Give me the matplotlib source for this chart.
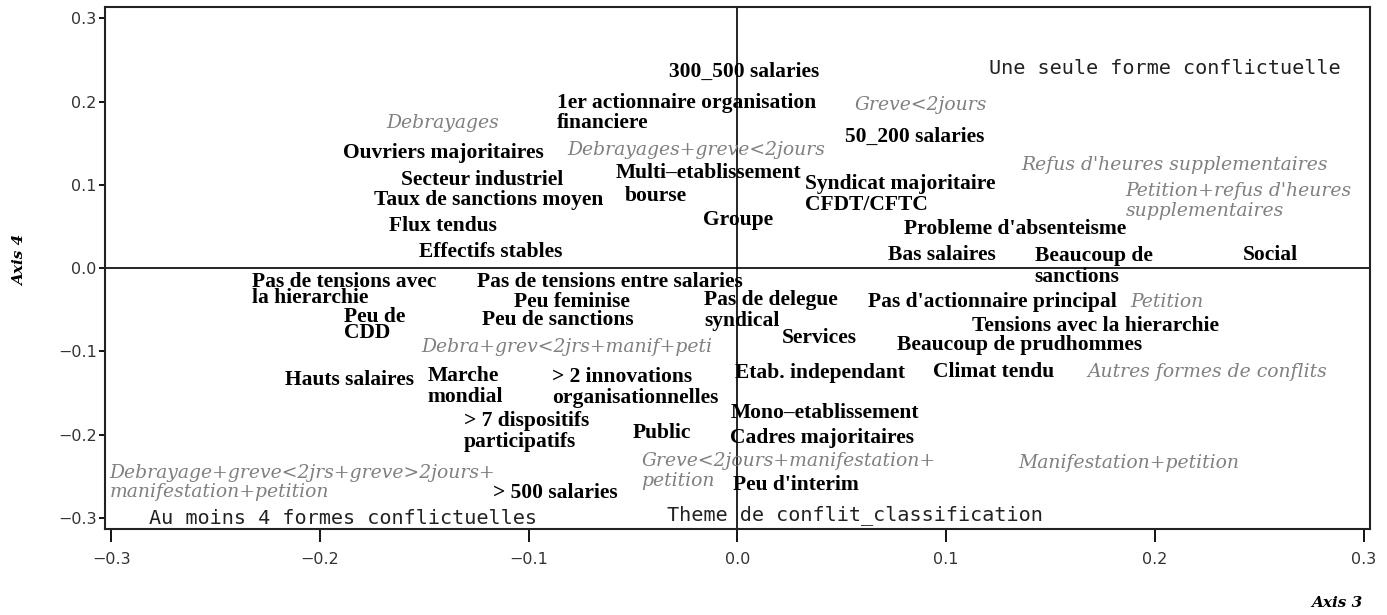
import matplotlib
matplotlib.use("Agg")
import matplotlib.pyplot as plt

# ---------------- Data (Axis 3 / Axis 4 coordinates) ----------------
# variables actives (black labels)
var_labels = [
    "300_500 salaries", "1er actionnaire organisation\nfinanciere", "Ouvriers majoritaires",
    "Secteur industriel", "Taux de sanctions moyen", "Flux tendus", "Effectifs stables",
    "Multi\u2013etablissement", "bourse", "Groupe", "50_200 salaries",
    "Syndicat majoritaire\nCFDT/CFTC", "Probleme d'absenteisme", "Bas salaires",
    "Beaucoup de\nsanctions", "Social", "Pas de tensions avec\nla hierarchie",
    "Pas de tensions entre salaries", "Peu feminise", "Pas de delegue\nsyndical",
    "Pas d'actionnaire principal", "Peu de\nCDD", "Peu de sanctions",
    "Tensions avec la hierarchie", "Services", "Beaucoup de prudhommes",
    "Hauts salaires", "Marche\nmondial", "> 2 innovations\norganisationnelles",
    "Etab. independant", "Climat tendu", "Mono\u2013etablissement",
    "> 7 dispositifs\nparticipatifs", "Public", "Cadres majoritaires",
    "Peu d'interim", "> 500 salaries",
]
var_axis3 = [
    0.0030, -0.0245, -0.1407, -0.1223, -0.1194, -0.1410, -0.1182,
    -0.0140, -0.0389, 0.0001, 0.0850, 0.0780, 0.1331, 0.0981,
    0.1707, 0.2551, -0.1886, -0.0612, -0.0792, 0.0162,
    0.1219, -0.1738, -0.0863, 0.1717, 0.0392, 0.1350,
    -0.1860, -0.1304, -0.0490, 0.0394, 0.1226, 0.0418,
    -0.1010, -0.0363, 0.0404, 0.0282, -0.0875,
]
var_axis4 = [
    0.2353, 0.1861, 0.1381, 0.1056, 0.0816, 0.0504, 0.0192,
    0.1140, 0.0864, 0.0576, 0.1573, 0.0888, 0.0468, 0.0156,
    0.0024, 0.0156, -0.0264, -0.0168, -0.0408, -0.0510,
    -0.0408, -0.0684, -0.0624, -0.0696, -0.0840, -0.0924,
    -0.1345, -0.1417, -0.1429, -0.1261, -0.1248, -0.1741,
    -0.1957, -0.1981, -0.2041, -0.2605, -0.2701,
]

# formes de conflit (grey italic labels)
conf_labels = [
    "Debrayages", "Greve<2jours", "Debrayages+greve<2jours",
    "Refus d'heures supplementaires", "Petition+refus d'heures\nsupplementaires",
    "Petition", "Debra+grev<2jrs+manif+peti", "Autres formes de conflits",
    "Manifestation+petition", "Greve<2jours+manifestation+\npetition",
    "Debrayage+greve<2jrs+greve>2jours+\nmanifestation+petition",
]
conf_axis3 = [-0.1412, 0.0878, -0.0197, 0.2093, 0.2400, 0.2059, -0.0816,
              0.2251, 0.1873, 0.0243, -0.2085]
conf_axis4 = [0.1741, 0.1957, 0.1417, 0.1237, 0.0804, -0.0408, -0.0948,
              -0.1248, -0.2341, -0.2437, -0.2575]

# classification groups
group_labels = ["Une seule forme conflictuelle", "Au moins 4 formes conflictuelles",
                "Theme de conflit_classification"]
group_axis3 = [0.2047, -0.1891, 0.0562]
group_axis4 = [0.2401, -0.3001, -0.2965]

ticks = [-0.3, -0.2, -0.1, 0.0, 0.1, 0.2, 0.3]

# ---------------- Plot ----------------
fig = plt.figure(figsize=(13.87, 6.15), dpi=100)
ax = fig.add_axes([0.0757, 0.140, 0.912, 0.848])
ax.set_xlim(-0.303, 0.303)
ax.set_ylim(-0.313, 0.313)

ax.axhline(0, color="black", lw=1.2)
ax.axvline(0, color="black", lw=1.2)
for s in ax.spines.values():
    s.set_linewidth(1.5)
    s.set_color("#222222")

ax.set_xticks(ticks)
ax.set_yticks(ticks)
ax.set_xticklabels([f"{t:.1f}".replace("-", "\u2212") for t in ticks])
ax.set_yticklabels([f"{t:.1f}".replace("-", "\u2212") for t in ticks])
ax.tick_params(axis="x", length=9.5, width=1.3, pad=7, labelsize=11.5, labelcolor="#333333")
ax.tick_params(axis="y", length=4, width=1.3, pad=2, labelsize=11.5, labelcolor="#333333")

tight = {"Pas de tensions avec\nla hierarchie", "Peu de\nCDD"}
for lab, x, y in zip(var_labels, var_axis3, var_axis4):
    ax.text(x, y, lab, ha="center", va="center", multialignment="left",
            family="Liberation Serif", fontweight="bold", fontsize=15.5,
            color="black", linespacing=0.7 if lab in tight else 1.05)

for lab, x, y in zip(conf_labels, conf_axis3, conf_axis4):
    ax.text(x, y, lab, ha="center", va="center", multialignment="left",
            family="DejaVu Serif", style="italic", fontsize=13.5,
            color="#808080", linespacing=1.1)

for lab, x, y in zip(group_labels, group_axis3, group_axis4):
    ax.text(x, y, lab, ha="center", va="center", family="DejaVu Sans Mono",
            fontsize=14.5, color="#222222")

fig.text(0.0144, 0.577, "Axis 4", rotation=90, ha="center", va="center",
         family="DejaVu Serif", style="italic", fontweight="bold", fontsize=11)
fig.text(0.964, 0.0195, "Axis 3", ha="center", va="center",
         family="DejaVu Serif", style="italic", fontweight="bold", fontsize=11)

fig.savefig("out.png", dpi=100)
